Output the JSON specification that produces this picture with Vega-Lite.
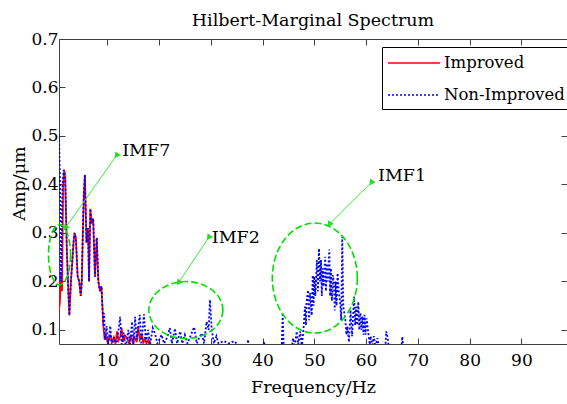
{
  "$schema": "https://vega.github.io/schema/vega-lite/v6.json",
  "width": 508,
  "height": 305,
  "autosize": "none",
  "padding": {"left": 59, "top": 39, "right": 0, "bottom": 60},
  "background": "white",
  "title": {"text": "Hilbert-Marginal Spectrum", "font": "DejaVu Serif", "fontSize": 17.5, "fontWeight": "normal", "color": "black", "offset": 1},
  "config": {
    "view": {"stroke": "#404040", "strokeWidth": 1},
    "axis": {"grid": false, "domainColor": "#404040", "tickColor": "#404040", "labelColor": "black", "labelFont": "DejaVu Serif", "labelFontSize": 17, "titleFont": "DejaVu Serif", "titleFontSize": 17.5, "titleFontWeight": "normal", "titleColor": "black", "tickSize": -6},
    "legend": {"orient": "none", "legendX": 323, "legendY": 8, "strokeColor": "black", "fillColor": "white", "padding": 5, "symbolType": "M -1 0 L 4.2 0", "symbolSize": 400, "symbolStrokeWidth": 1.6, "labelFont": "DejaVu Serif", "labelFontSize": 16.5, "labelColor": "black", "labelOffset": 35, "rowPadding": 12, "cornerRadius": 0}
  },
  "datasets": {
    "spectrum": [
      {"series":"Improved","freq":0.7,"amp":0.14},{"series":"Improved","freq":0.9,"amp":0.16},{"series":"Improved","freq":1.1,"amp":0.22},{"series":"Improved","freq":1.3,"amp":0.18},{"series":"Improved","freq":1.5,"amp":0.40},{"series":"Improved","freq":1.7,"amp":0.43},{"series":"Improved","freq":1.9,"amp":0.41},{"series":"Improved","freq":2.2,"amp":0.27},{"series":"Improved","freq":2.5,"amp":0.18},{"series":"Improved","freq":2.7,"amp":0.13},{"series":"Improved","freq":3.0,"amp":0.20},{"series":"Improved","freq":3.2,"amp":0.23},{"series":"Improved","freq":3.5,"amp":0.28},{"series":"Improved","freq":3.7,"amp":0.30},{"series":"Improved","freq":3.95,"amp":0.29},{"series":"Improved","freq":4.3,"amp":0.21},{"series":"Improved","freq":4.6,"amp":0.20},{"series":"Improved","freq":4.9,"amp":0.17},{"series":"Improved","freq":5.1,"amp":0.20},{"series":"Improved","freq":5.3,"amp":0.30},{"series":"Improved","freq":5.5,"amp":0.38},{"series":"Improved","freq":5.7,"amp":0.42},{"series":"Improved","freq":5.9,"amp":0.33},{"series":"Improved","freq":6.0,"amp":0.28},{"series":"Improved","freq":6.3,"amp":0.31},{"series":"Improved","freq":6.5,"amp":0.20},{"series":"Improved","freq":6.75,"amp":0.35},{"series":"Improved","freq":7.0,"amp":0.32},{"series":"Improved","freq":7.3,"amp":0.33},{"series":"Improved","freq":7.5,"amp":0.26},{"series":"Improved","freq":7.65,"amp":0.21},{"series":"Improved","freq":7.98,"amp":0.29},{"series":"Improved","freq":8.3,"amp":0.20},{"series":"Improved","freq":8.6,"amp":0.18},{"series":"Improved","freq":8.9,"amp":0.19},{"series":"Improved","freq":9.25,"amp":0.11},{"series":"Improved","freq":9.5,"amp":0.08},{"series":"Improved","freq":9.8,"amp":0.09},{"series":"Improved","freq":10.1,"amp":0.072},{"series":"Improved","freq":10.6,"amp":0.09},{"series":"Improved","freq":10.9,"amp":0.075},{"series":"Improved","freq":11.3,"amp":0.085},{"series":"Improved","freq":11.6,"amp":0.072},{"series":"Improved","freq":11.9,"amp":0.097},{"series":"Improved","freq":12.2,"amp":0.078},{"series":"Improved","freq":12.5,"amp":0.085},{"series":"Improved","freq":12.8,"amp":0.104},{"series":"Improved","freq":13.1,"amp":0.075},{"series":"Improved","freq":13.5,"amp":0.088},{"series":"Improved","freq":13.9,"amp":0.083},{"series":"Improved","freq":14.2,"amp":0.072},{"series":"Improved","freq":14.6,"amp":0.09},{"series":"Improved","freq":14.9,"amp":0.075},{"series":"Improved","freq":15.3,"amp":0.085},{"series":"Improved","freq":15.7,"amp":0.075},{"series":"Improved","freq":16.0,"amp":0.107},{"series":"Improved","freq":16.3,"amp":0.08},{"series":"Improved","freq":16.7,"amp":0.09},{"series":"Improved","freq":17.0,"amp":0.072},{"series":"Improved","freq":17.3,"amp":0.085},{"series":"Improved","freq":17.6,"amp":0.072},{"series":"Improved","freq":18.0,"amp":0.08},{"series":"Improved","freq":18.2,"amp":0.06},
      {"series":"Non-Improved","freq":0.7,"amp":0.50},{"series":"Non-Improved","freq":1.0,"amp":0.35},{"series":"Non-Improved","freq":1.1,"amp":0.20},{"series":"Non-Improved","freq":1.4,"amp":0.40},{"series":"Non-Improved","freq":1.6,"amp":0.43},{"series":"Non-Improved","freq":1.9,"amp":0.42},{"series":"Non-Improved","freq":2.2,"amp":0.27},{"series":"Non-Improved","freq":2.5,"amp":0.18},{"series":"Non-Improved","freq":2.7,"amp":0.13},{"series":"Non-Improved","freq":3.0,"amp":0.20},{"series":"Non-Improved","freq":3.2,"amp":0.23},{"series":"Non-Improved","freq":3.5,"amp":0.28},{"series":"Non-Improved","freq":3.7,"amp":0.30},{"series":"Non-Improved","freq":3.95,"amp":0.29},{"series":"Non-Improved","freq":4.3,"amp":0.21},{"series":"Non-Improved","freq":4.6,"amp":0.20},{"series":"Non-Improved","freq":4.9,"amp":0.17},{"series":"Non-Improved","freq":5.1,"amp":0.20},{"series":"Non-Improved","freq":5.3,"amp":0.30},{"series":"Non-Improved","freq":5.5,"amp":0.38},{"series":"Non-Improved","freq":5.7,"amp":0.42},{"series":"Non-Improved","freq":5.9,"amp":0.33},{"series":"Non-Improved","freq":6.0,"amp":0.28},{"series":"Non-Improved","freq":6.3,"amp":0.31},{"series":"Non-Improved","freq":6.5,"amp":0.20},{"series":"Non-Improved","freq":6.75,"amp":0.35},{"series":"Non-Improved","freq":7.0,"amp":0.32},{"series":"Non-Improved","freq":7.3,"amp":0.33},{"series":"Non-Improved","freq":7.5,"amp":0.26},{"series":"Non-Improved","freq":7.65,"amp":0.21},{"series":"Non-Improved","freq":7.98,"amp":0.29},{"series":"Non-Improved","freq":8.3,"amp":0.20},{"series":"Non-Improved","freq":8.6,"amp":0.18},{"series":"Non-Improved","freq":8.9,"amp":0.19},{"series":"Non-Improved","freq":9.25,"amp":0.11},{"series":"Non-Improved","freq":9.4,"amp":0.135},{"series":"Non-Improved","freq":9.6,"amp":0.08},{"series":"Non-Improved","freq":9.9,"amp":0.108},{"series":"Non-Improved","freq":10.2,"amp":0.07},{"series":"Non-Improved","freq":10.6,"amp":0.108},{"series":"Non-Improved","freq":10.9,"amp":0.065},{"series":"Non-Improved","freq":11.3,"amp":0.085},{"series":"Non-Improved","freq":11.7,"amp":0.065},{"series":"Non-Improved","freq":12.1,"amp":0.09},{"series":"Non-Improved","freq":12.5,"amp":0.127},{"series":"Non-Improved","freq":12.8,"amp":0.07},{"series":"Non-Improved","freq":13.2,"amp":0.095},{"series":"Non-Improved","freq":13.6,"amp":0.065},{"series":"Non-Improved","freq":14.1,"amp":0.10},{"series":"Non-Improved","freq":14.4,"amp":0.07},{"series":"Non-Improved","freq":14.8,"amp":0.117},{"series":"Non-Improved","freq":15.1,"amp":0.07},{"series":"Non-Improved","freq":15.4,"amp":0.127},{"series":"Non-Improved","freq":15.7,"amp":0.08},{"series":"Non-Improved","freq":16.3,"amp":0.131},{"series":"Non-Improved","freq":16.6,"amp":0.07},{"series":"Non-Improved","freq":17.1,"amp":0.132},{"series":"Non-Improved","freq":17.5,"amp":0.075},{"series":"Non-Improved","freq":17.9,"amp":0.10},{"series":"Non-Improved","freq":18.3,"amp":0.07},{"series":"Non-Improved","freq":18.8,"amp":0.104},{"series":"Non-Improved","freq":19.3,"amp":0.09},{"series":"Non-Improved","freq":19.7,"amp":0.072},{"series":"Non-Improved","freq":20.5,"amp":0.09},{"series":"Non-Improved","freq":21.0,"amp":0.072},{"series":"Non-Improved","freq":21.6,"amp":0.085},{"series":"Non-Improved","freq":22.1,"amp":0.104},{"series":"Non-Improved","freq":22.5,"amp":0.072},{"series":"Non-Improved","freq":23.1,"amp":0.103},{"series":"Non-Improved","freq":23.5,"amp":0.072},{"series":"Non-Improved","freq":24.1,"amp":0.097},{"series":"Non-Improved","freq":24.5,"amp":0.072},{"series":"Non-Improved","freq":25.0,"amp":0.09},{"series":"Non-Improved","freq":25.5,"amp":0.072},{"series":"Non-Improved","freq":26.0,"amp":0.085},{"series":"Non-Improved","freq":26.8,"amp":0.106},{"series":"Non-Improved","freq":27.3,"amp":0.072},{"series":"Non-Improved","freq":27.8,"amp":0.085},{"series":"Non-Improved","freq":28.3,"amp":0.093},{"series":"Non-Improved","freq":28.7,"amp":0.072},{"series":"Non-Improved","freq":29.2,"amp":0.117},{"series":"Non-Improved","freq":29.6,"amp":0.10},{"series":"Non-Improved","freq":29.85,"amp":0.162},{"series":"Non-Improved","freq":30.2,"amp":0.10},{"series":"Non-Improved","freq":30.6,"amp":0.072},{"series":"Non-Improved","freq":31.1,"amp":0.087},{"series":"Non-Improved","freq":31.5,"amp":0.072},{"series":"Non-Improved","freq":32.5,"amp":0.077},{"series":"Non-Improved","freq":33.5,"amp":0.072},{"series":"Non-Improved","freq":34.5,"amp":0.077},{"series":"Non-Improved","freq":35.0,"amp":0.072},{"series":"Non-Improved","freq":35.3,"amp":0.06},{"series":"Non-Improved","freq":37.0,"amp":0.06},{"series":"Non-Improved","freq":37.2,"amp":0.08},{"series":"Non-Improved","freq":37.4,"amp":0.06},{"series":"Non-Improved","freq":40.1,"amp":0.06},{"series":"Non-Improved","freq":40.3,"amp":0.076},{"series":"Non-Improved","freq":40.5,"amp":0.06},{"series":"Non-Improved","freq":43.7,"amp":0.06},{"series":"Non-Improved","freq":43.9,"amp":0.135},{"series":"Non-Improved","freq":44.1,"amp":0.06},{"series":"Non-Improved","freq":45.6,"amp":0.06},{"series":"Non-Improved","freq":45.9,"amp":0.083},{"series":"Non-Improved","freq":46.2,"amp":0.065},{"series":"Non-Improved","freq":46.6,"amp":0.097},{"series":"Non-Improved","freq":46.9,"amp":0.07},{"series":"Non-Improved","freq":47.3,"amp":0.097},{"series":"Non-Improved","freq":47.6,"amp":0.065},{"series":"Non-Improved","freq":47.9,"amp":0.10},{"series":"Non-Improved","freq":48.2,"amp":0.148},{"series":"Non-Improved","freq":48.4,"amp":0.11},{"series":"Non-Improved","freq":48.5,"amp":0.158},{"series":"Non-Improved","freq":48.8,"amp":0.182},{"series":"Non-Improved","freq":49.0,"amp":0.12},{"series":"Non-Improved","freq":49.2,"amp":0.176},{"series":"Non-Improved","freq":49.5,"amp":0.13},{"series":"Non-Improved","freq":49.7,"amp":0.213},{"series":"Non-Improved","freq":49.85,"amp":0.15},{"series":"Non-Improved","freq":50.0,"amp":0.21},{"series":"Non-Improved","freq":50.2,"amp":0.17},{"series":"Non-Improved","freq":50.5,"amp":0.244},{"series":"Non-Improved","freq":50.7,"amp":0.18},{"series":"Non-Improved","freq":50.9,"amp":0.268},{"series":"Non-Improved","freq":51.1,"amp":0.20},{"series":"Non-Improved","freq":51.3,"amp":0.244},{"series":"Non-Improved","freq":51.45,"amp":0.17},{"series":"Non-Improved","freq":51.6,"amp":0.227},{"series":"Non-Improved","freq":51.8,"amp":0.19},{"series":"Non-Improved","freq":52.1,"amp":0.251},{"series":"Non-Improved","freq":52.25,"amp":0.18},{"series":"Non-Improved","freq":52.4,"amp":0.237},{"series":"Non-Improved","freq":52.6,"amp":0.20},{"series":"Non-Improved","freq":52.9,"amp":0.266},{"series":"Non-Improved","freq":53.05,"amp":0.17},{"series":"Non-Improved","freq":53.2,"amp":0.227},{"series":"Non-Improved","freq":53.4,"amp":0.16},{"series":"Non-Improved","freq":53.6,"amp":0.213},{"series":"Non-Improved","freq":53.8,"amp":0.196},{"series":"Non-Improved","freq":53.95,"amp":0.14},{"series":"Non-Improved","freq":54.1,"amp":0.20},{"series":"Non-Improved","freq":54.3,"amp":0.15},{"series":"Non-Improved","freq":54.5,"amp":0.217},{"series":"Non-Improved","freq":54.7,"amp":0.182},{"series":"Non-Improved","freq":55.0,"amp":0.155},{"series":"Non-Improved","freq":55.2,"amp":0.12},{"series":"Non-Improved","freq":55.4,"amp":0.292},{"series":"Non-Improved","freq":55.6,"amp":0.148},{"series":"Non-Improved","freq":56.0,"amp":0.121},{"series":"Non-Improved","freq":56.2,"amp":0.09},{"series":"Non-Improved","freq":56.4,"amp":0.107},{"series":"Non-Improved","freq":56.7,"amp":0.075},{"series":"Non-Improved","freq":57.0,"amp":0.141},{"series":"Non-Improved","freq":57.3,"amp":0.087},{"series":"Non-Improved","freq":57.7,"amp":0.169},{"series":"Non-Improved","freq":57.9,"amp":0.11},{"series":"Non-Improved","freq":58.1,"amp":0.148},{"series":"Non-Improved","freq":58.3,"amp":0.11},{"series":"Non-Improved","freq":58.5,"amp":0.158},{"series":"Non-Improved","freq":58.7,"amp":0.10},{"series":"Non-Improved","freq":58.9,"amp":0.135},{"series":"Non-Improved","freq":59.1,"amp":0.10},{"series":"Non-Improved","freq":59.3,"amp":0.128},{"series":"Non-Improved","freq":59.5,"amp":0.09},{"series":"Non-Improved","freq":59.7,"amp":0.131},{"series":"Non-Improved","freq":59.9,"amp":0.09},{"series":"Non-Improved","freq":60.1,"amp":0.124},{"series":"Non-Improved","freq":60.4,"amp":0.097},{"series":"Non-Improved","freq":60.7,"amp":0.07},{"series":"Non-Improved","freq":60.9,"amp":0.087},{"series":"Non-Improved","freq":61.2,"amp":0.065},{"series":"Non-Improved","freq":61.5,"amp":0.087},{"series":"Non-Improved","freq":61.8,"amp":0.065},{"series":"Non-Improved","freq":62.2,"amp":0.083},{"series":"Non-Improved","freq":62.5,"amp":0.06},{"series":"Non-Improved","freq":63.7,"amp":0.06},{"series":"Non-Improved","freq":63.9,"amp":0.097},{"series":"Non-Improved","freq":64.2,"amp":0.083},{"series":"Non-Improved","freq":64.4,"amp":0.06},{"series":"Non-Improved","freq":66.8,"amp":0.06},{"series":"Non-Improved","freq":67.0,"amp":0.086},{"series":"Non-Improved","freq":67.2,"amp":0.06},{"series":"Non-Improved","freq":98.8,"amp":0.06}
    ],
    "notes": [
      {"label":"IMF7","cx":0.8,"cy":0.255,"x1":2.05,"y1":0.312,"x2":11.9,"y2":0.461,"tx":12.9,"ty":0.469},
      {"label":"IMF2","cx":25.2,"cy":0.141,"x1":23.9,"y1":0.199,"x2":29.7,"y2":0.292,"tx":30.2,"ty":0.29},
      {"label":"IMF1","cx":50.1,"cy":0.207,"x1":53.0,"y1":0.319,"x2":61.1,"y2":0.405,"tx":62.3,"ty":0.418}
    ]
  },
  "resolve": {"axis": {"x": "independent", "y": "independent"}},
  "layer": [
    {
      "data": {"name": "spectrum"},
      "transform": [{"filter": "datum.series === 'Improved'"}],
      "mark": {"type": "line", "clip": true, "strokeWidth": 1.7},
      "encoding": {
        "x": {"field": "freq", "type": "quantitative", "scale": {"domain": [0.7, 98.8], "nice": false, "zero": false}, "axis": {"orient": "top", "labels": false, "title": null, "values": [10,20,30,40,50,60,70,80,90], "domain": false}},
        "y": {"field": "amp", "type": "quantitative", "scale": {"domain": [0.071, 0.7], "nice": false, "zero": false}, "axis": {"orient": "right", "labels": false, "title": null, "values": [0.1,0.2,0.3,0.4,0.5,0.6,0.7], "domain": false}},
        "color": {"field": "series", "type": "nominal", "scale": {"domain": ["Improved", "Non-Improved"], "range": ["#ff0000", "#0000ff"]}, "legend": {"title": null}},
        "strokeDash": {"field": "series", "type": "nominal", "scale": {"domain": ["Improved", "Non-Improved"], "range": [[1, 0], [2, 2]]}, "legend": {"title": null}}
      }
    },
    {
      "data": {"name": "spectrum"},
      "transform": [{"filter": "datum.series === 'Non-Improved'"}],
      "mark": {"type": "line", "clip": true, "strokeWidth": 1.8},
      "encoding": {
        "x": {"field": "freq", "type": "quantitative", "scale": {"domain": [0.7, 98.8], "nice": false, "zero": false}, "axis": {"orient": "bottom", "title": "Frequency/Hz", "values": [10,20,30,40,50,60,70,80,90], "labelPadding": 14, "titlePadding": 10, "domain": false}},
        "y": {"field": "amp", "type": "quantitative", "scale": {"domain": [0.071, 0.7], "nice": false, "zero": false}, "axis": {"orient": "left", "title": "Amp/μm", "titleY": 144, "values": [0.1,0.2,0.3,0.4,0.5,0.6,0.7], "format": ".1f", "labelPadding": 7, "titlePadding": 2, "domain": false}},
        "color": {"field": "series", "type": "nominal", "scale": {"domain": ["Improved", "Non-Improved"], "range": ["#ff0000", "#0000ff"]}, "legend": {"title": null}},
        "strokeDash": {"field": "series", "type": "nominal", "scale": {"domain": ["Improved", "Non-Improved"], "range": [[1, 0], [2, 2]]}, "legend": {"title": null}}
      }
    },
    {
      "data": {"name": "notes"},
      "transform": [{"filter": "datum.label === 'IMF7'"}],
      "mark": {"type": "point", "filled": false, "stroke": "#00e000", "strokeWidth": 1.6, "strokeDash": [7, 3], "opacity": 1, "size": 3600,
        "shape": "M 0.367 0 C 0.367 0.552 0.203 1 0 1 C -0.203 1 -0.367 0.552 -0.367 0 C -0.367 -0.552 -0.203 -1 0 -1 C 0.203 -1 0.367 -0.552 0.367 0 Z"},
      "encoding": {
        "x": {"field": "cx", "type": "quantitative", "axis": null},
        "y": {"field": "cy", "type": "quantitative", "axis": null}
      }
    },
    {
      "data": {"name": "notes"},
      "transform": [{"filter": "datum.label === 'IMF2'"}],
      "mark": {"type": "point", "filled": false, "stroke": "#00e000", "strokeWidth": 1.6, "strokeDash": [7, 3], "opacity": 1, "size": 5476,
        "shape": "M 1 0 C 1 0.425 0.552 0.77 0 0.77 C -0.552 0.77 -1 0.425 -1 0 C -1 -0.425 -0.552 -0.77 0 -0.77 C 0.552 -0.77 1 -0.425 1 0 Z"},
      "encoding": {
        "x": {"field": "cx", "type": "quantitative", "axis": null},
        "y": {"field": "cy", "type": "quantitative", "axis": null}
      }
    },
    {
      "data": {"name": "notes"},
      "transform": [{"filter": "datum.label === 'IMF1'"}],
      "mark": {"type": "point", "filled": false, "stroke": "#00e000", "strokeWidth": 1.6, "strokeDash": [7, 3], "opacity": 1, "size": 12100,
        "shape": "M 0.773 0 C 0.773 0.552 0.427 1 0 1 C -0.427 1 -0.773 0.552 -0.773 0 C -0.773 -0.552 -0.427 -1 0 -1 C 0.427 -1 0.773 -0.552 0.773 0 Z"},
      "encoding": {
        "x": {"field": "cx", "type": "quantitative", "axis": null},
        "y": {"field": "cy", "type": "quantitative", "axis": null}
      }
    },
    {
      "data": {"name": "notes"},
      "mark": {"type": "rule", "stroke": "#33ee33", "strokeWidth": 1},
      "encoding": {
        "x": {"field": "x1", "type": "quantitative", "axis": null},
        "y": {"field": "y1", "type": "quantitative", "axis": null},
        "x2": {"field": "x2"},
        "y2": {"field": "y2"}
      }
    },
    {
      "data": {"name": "notes"},
      "mark": {"type": "point", "shape": "triangle", "filled": true, "color": "#22dd22", "size": 45, "opacity": 1},
      "encoding": {
        "x": {"field": "x1", "type": "quantitative", "axis": null},
        "y": {"field": "y1", "type": "quantitative", "axis": null},
        "angle": {"field": "label", "type": "nominal", "legend": null, "scale": {"domain": ["IMF7", "IMF2", "IMF1"], "range": [215, 214, 225]}}
      }
    },
    {
      "data": {"name": "notes"},
      "mark": {"type": "point", "shape": "triangle", "filled": true, "color": "#22dd22", "size": 45, "opacity": 1},
      "encoding": {
        "x": {"field": "x2", "type": "quantitative", "axis": null},
        "y": {"field": "y2", "type": "quantitative", "axis": null},
        "angle": {"field": "label", "type": "nominal", "legend": null, "scale": {"domain": ["IMF7", "IMF2", "IMF1"], "range": [35, 34, 45]}}
      }
    },
    {
      "data": {"name": "notes"},
      "mark": {"type": "text", "align": "left", "baseline": "middle", "font": "DejaVu Serif", "fontSize": 17.5, "color": "black"},
      "encoding": {
        "x": {"field": "tx", "type": "quantitative", "axis": null},
        "y": {"field": "ty", "type": "quantitative", "axis": null},
        "text": {"field": "label"}
      }
    }
  ]
}
